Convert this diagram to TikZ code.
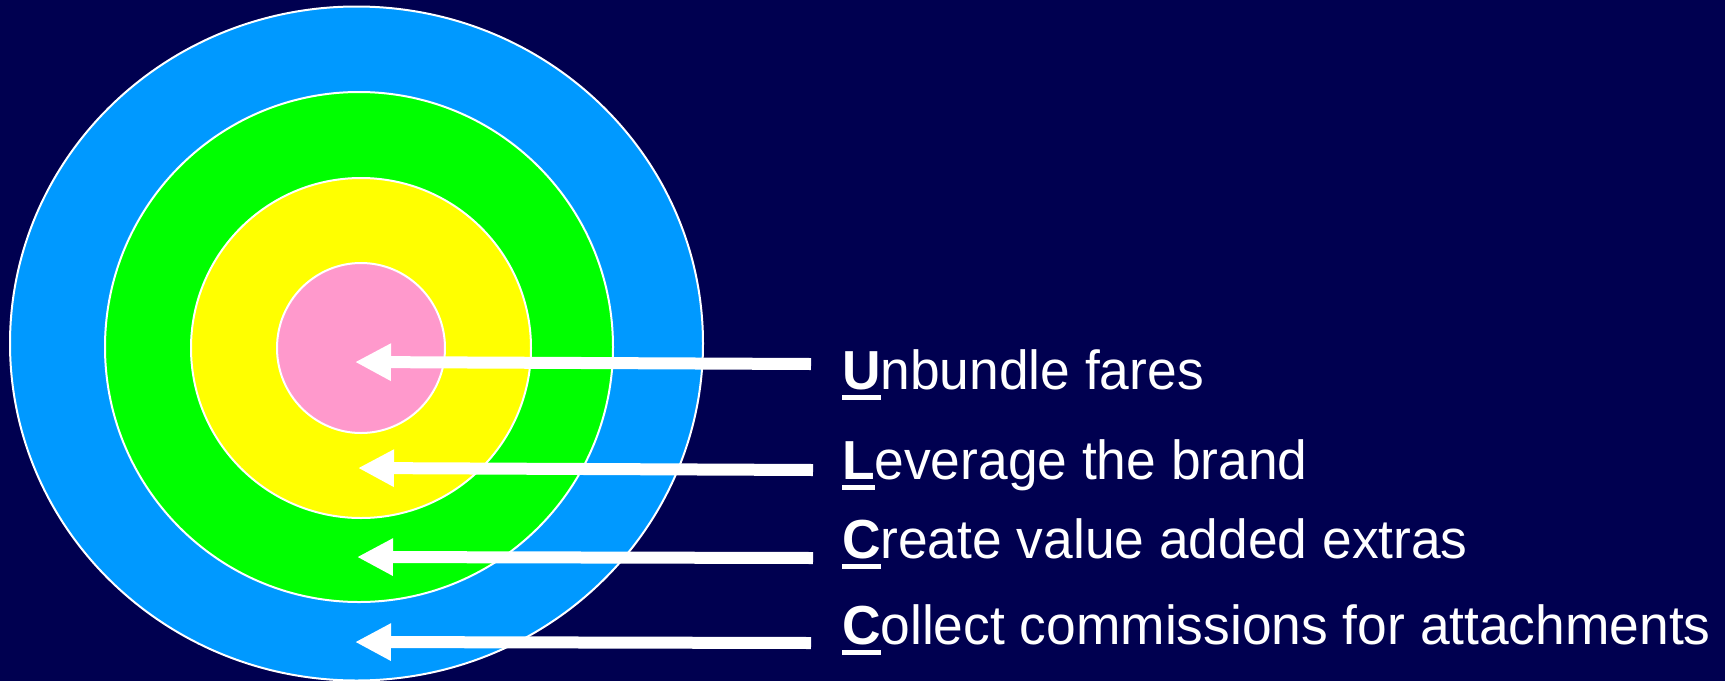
\documentclass[tikz,border=0pt]{standalone}
\usepackage{fontspec}
\setmainfont[FakeStretch=0.97]{Liberation Sans}
\usetikzlibrary{arrows.meta}

\definecolor{slide}{RGB}{0,0,80}
\definecolor{ringblue}{RGB}{0,153,255}
\definecolor{ringgreen}{RGB}{0,255,0}
\definecolor{ringyellow}{RGB}{255,255,0}
\definecolor{ringpink}{RGB}{255,153,204}

% bold, underlined first letter of each point
\newsavebox\letterbox
\newcommand{\firstletter}[1]{%
	\sbox\letterbox{\bfseries #1}%
	\rlap{\rule[-11pt]{\wd\letterbox}{5pt}}\usebox\letterbox}

\tikzset{
	item/.style={anchor=base west, inner sep=0pt, text=white,
		font=\fontsize{55}{60}\selectfont},
	pointer/.style={white, line width=12pt,
		-{Triangle[length=36pt,width=35pt]}}
}

\begin{document}
\begin{tikzpicture}[x=1pt, y=-1pt, line width=2pt]

% Background
\fill[slide] (0,0) rectangle (1725,681);
\useasboundingbox (0,0) rectangle (1725,681);

% Target rings, outside in
\foreach \cx/\cy/\rx/\ry/\col in
{
	356.5/343.5/346.5/337/ringblue,
	359/347/254/255/ringgreen,
	361/348/170/170/ringyellow,
	361/348/84/85/ringpink%
}
{
	\filldraw[fill=\col, draw=white] (\cx,\cy) ellipse [x radius=\rx, y radius=\ry];
}

% Points
\node[item] (unbundle) at (841,389) {\firstletter{U}nbundle fares};
\node[item] (leverage) at (841,479) {\firstletter{L}everage the brand};
\node[item] (create)   at (841,558) {\firstletter{C}reate value added extras};
\node[item] (collect)  at (841,644) {\firstletter{C}ollect commissions for attachments};

% Arrow ends
\coordinate (unbundle tail) at (811,364);
\coordinate (unbundle tip)  at (355,362);
\coordinate (leverage tail) at (813,470);
\coordinate (leverage tip)  at (358,468);
\coordinate (create tail)   at (813,558);
\coordinate (create tip)    at (357,557);
\coordinate (collect tail)  at (811,643);
\coordinate (collect tip)   at (355,642);

% Arrows into the rings
\foreach \name in {unbundle,leverage,create,collect}
{
	\draw[pointer] (\name\space tail) -- (\name\space tip);
}

\end{tikzpicture}
\end{document}
